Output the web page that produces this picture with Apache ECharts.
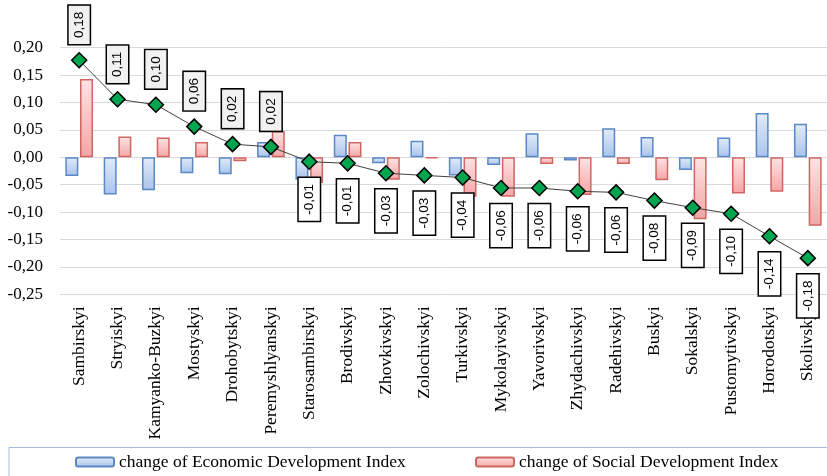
<!DOCTYPE html>
<html>
<head>
<meta charset="utf-8">
<script src="https://cdn.jsdelivr.net/npm/echarts@6/dist/echarts.min.js"></script>
<style>
  html, body { margin: 0; padding: 0; background: #fff; }
  #chart { width: 827px; height: 476px; }
</style>
</head>
<body>
<div id="chart"></div>
<script>
// Districts, ordered by the change of the integral index
const categories = [
  'Sambirskyi', 'Stryiskyi', 'Kamyanko-Buzkyi', 'Mostyskyi', 'Drohobytskyi',
  'Peremyshlyanskyi', 'Starosambirskyi', 'Brodivskyi', 'Zhovkivskyi', 'Zolochivskyi',
  'Turkivskyi', 'Mykolayivskyi', 'Yavorivskyi', 'Zhydachivskyi', 'Radehivskyi',
  'Buskyi', 'Sokalskyi', 'Pustomytivskyi', 'Horodotskyi', 'Skolivskyi'
];

// change of Economic Development Index
const economic = [
  -0.034, -0.068, -0.060, -0.029, -0.031,
   0.028, -0.041,  0.041, -0.011,  0.030,
  -0.033, -0.014,  0.044, -0.006,  0.053,
   0.037, -0.023,  0.036,  0.081,  0.061
];

// change of Social Development Index
const social = [
   0.143,  0.038,  0.036,  0.028, -0.007,
   0.048, -0.047,  0.028, -0.041, -0.002,
  -0.072, -0.072, -0.012, -0.069, -0.012,
  -0.042, -0.113, -0.066, -0.063, -0.125
];

// change of the integral index (line with labelled markers)
const integral = [
   0.177,  0.106,  0.096,  0.056,  0.024,
   0.019, -0.008, -0.011, -0.029, -0.033,
  -0.037, -0.056, -0.056, -0.062, -0.064,
  -0.079, -0.092, -0.103, -0.144, -0.184
];

// value axis ticks
const yMin = -0.25;
const yMax = 0.20;
const yStep = 0.05;

const comma = v => v.toFixed(2).replace('.', ',');
const serif = '"Liberation Serif", "Times New Roman", serif';

const grad = (top, bottom) => ({
  type: 'linear', x: 0, y: 0, x2: 0, y2: 1,
  colorStops: [{ offset: 0, color: top }, { offset: 1, color: bottom }]
});

const lineData = integral.map(v => {
  const up = v >= 0;
  return {
    value: v,
    label: {
      position: up ? 'top' : 'bottom',
      align: up ? 'left' : 'right',
      backgroundColor: up ? '#f1f1f1' : '#ffffff'
    }
  };
});

const chart = echarts.init(document.getElementById('chart'), null, { renderer: 'canvas' });

chart.setOption({
  animation: false,
  backgroundColor: '#ffffff',
  grid: { left: 60, right: -5, top: 47.7, bottom: 181.7, containLabel: false },
  xAxis: {
    type: 'category',
    data: categories,
    axisLine: { show: false },
    axisTick: { show: false },
    axisLabel: {
      rotate: 90,
      interval: 0,
      margin: 12,
      color: '#000',
      fontFamily: serif,
      fontSize: 17.5
    }
  },
  yAxis: {
    type: 'value',
    min: yMin,
    max: yMax,
    interval: yStep,
    axisLine: { show: false },
    axisTick: { show: false },
    splitLine: { lineStyle: { color: '#d9d9d9', width: 1 } },
    axisLabel: {
      margin: 17,
      color: '#000',
      fontFamily: serif,
      fontSize: 17,
      formatter: v => comma(v)
    }
  },
  legend: [
    {
      left: 75, top: 453, padding: 0, itemWidth: 38, itemHeight: 9,
      data: ['change of Economic Development Index'],
      textStyle: { fontFamily: serif, fontSize: 17.5, color: '#000' }
    },
    {
      left: 475, top: 453, padding: 0, itemWidth: 38, itemHeight: 9,
      data: ['change of Social Development Index'],
      textStyle: { fontFamily: serif, fontSize: 17.5, color: '#000' }
    }
  ],
  graphic: [{
    type: 'rect',
    silent: true,
    shape: { x: 9, y: 447.5, width: 830, height: 40 },
    style: { fill: 'none', stroke: '#a9bad6', lineWidth: 1 }
  }],
  series: [
    {
      name: 'change of Economic Development Index',
      type: 'bar',
      data: economic,
      barWidth: 13,
      barGap: '13%',
      itemStyle: {
        color: grad('#e3ecf9', '#a9c3eb'),
        borderColor: '#5a87c6',
        borderWidth: 1.5
      }
    },
    {
      name: 'change of Social Development Index',
      type: 'bar',
      data: social,
      barWidth: 13,
      barGap: '13%',
      itemStyle: {
        color: grad('#fde4e4', '#f4a5a5'),
        borderColor: '#cf6663',
        borderWidth: 1.5
      }
    },
    {
      name: 'change of Integral Development Index',
      type: 'line',
      data: lineData,
      z: 5,
      symbol: 'diamond',
      symbolSize: 15,
      lineStyle: { color: '#404040', width: 1 },
      itemStyle: { color: '#00a550', borderColor: '#000', borderWidth: 1.5 },
      label: {
        show: true,
        rotate: 90,
        distance: 8,
        verticalAlign: 'middle',
        formatter: p => comma(p.value),
        fontFamily: '"Liberation Sans", Arial, sans-serif',
        fontSize: 13.5,
        color: '#000',
        borderColor: '#000',
        borderWidth: 1.5,
        padding: [4, 6, 3, 6]
      }
    }
  ]
});
</script>
</body>
</html>
